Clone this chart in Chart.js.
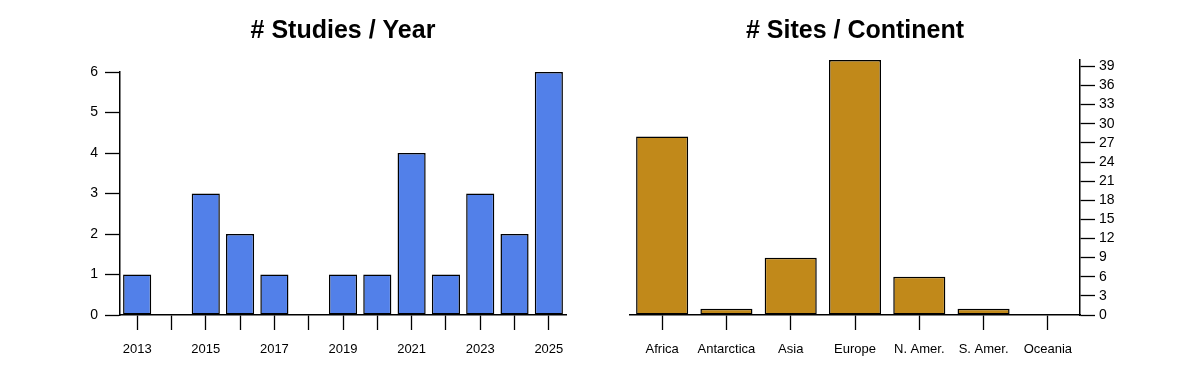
<!DOCTYPE html>
<html>
<head>
<meta charset="utf-8">
<script src="https://cdn.jsdelivr.net/npm/chart.js@4"></script>
<style>
  html, body { margin: 0; padding: 0; background: #fff; }
  #wrap { position: relative; width: 1200px; height: 375px; }
  canvas { position: absolute; top: 0; }
</style>
</head>
<body>
<div id="wrap">
  <canvas id="studies" width="600" height="375" style="left:0"></canvas>
  <canvas id="sites" width="600" height="375" style="left:600px"></canvas>
</div>
<script>
const years = ["2013", "2014", "2015", "2016", "2017", "2018", "2019", "2020", "2021", "2022", "2023", "2024", "2025"]
const studiesPerYear = [1, 0, 3, 2, 1, 0, 1, 1, 4, 1, 3, 2, 6]
const studiesTicks = [0, 1, 2, 3, 4, 5, 6]

const continents = ["Africa", "Antarctica", "Asia", "Europe", "N. Amer.", "S. Amer.", "Oceania"]
const sitesPerContinent = [28, 1, 9, 40, 6, 1, 0]
const sitesTicks = [0, 3, 6, 9, 12, 15, 18, 21, 24, 27, 30, 33, 36, 39]

const fontFamily = "'Liberation Sans', Arial, Helvetica, sans-serif"
Chart.defaults.font.family = fontFamily
Chart.defaults.color = "#000"

function axisGrid() {
  return {
    drawOnChartArea: false,
    drawTicks: true,
    tickLength: 15,
    tickColor: "#000",
    tickWidth: 1.3,
    offset: false
  }
}

// title sits centred over the plot area, like the original
function makeTitle(text, gapBelow) {
  return {
    display: true,
    text,
    fullSize: false,
    color: "#000",
    font: { size: 25, weight: "bold", family: fontFamily },
    padding: { top: 16, bottom: gapBelow }
  }
}

function fixedTicks(values) {
  return (scale) => {
    scale.ticks = values.map((v) => ({ value: v }))
  }
}

new Chart(document.getElementById("studies"), {
  type: "bar",
  data: {
    labels: years,
    datasets: [{
      data: studiesPerYear,
      backgroundColor: "#5280E9",
      borderColor: "#000",
      borderWidth: 1.5,
      borderSkipped: false,
      barPercentage: 0.82,
      categoryPercentage: 1
    }]
  },
  options: {
    responsive: false,
    animation: false,
    layout: { padding: { left: 0, right: 34, top: 0, bottom: 0 } },
    plugins: {
      legend: { display: false },
      tooltip: { enabled: false },
      title: makeTitle("# Studies / Year", 26)
    },
    scales: {
      x: {
        offset: true,
        grid: axisGrid(),
        border: { color: "#000", width: 1.5 },
        ticks: {
          autoSkip: false,
          maxRotation: 0,
          padding: 12,
          font: { size: 13 },
          callback: (value, index) => (index % 2 === 0 ? years[index] : "")
        },
        afterFit: (scale) => { scale.height = 60 }
      },
      y: {
        min: 0,
        max: 6,
        grid: axisGrid(),
        border: { color: "#000", width: 1.5 },
        ticks: { autoSkip: false, padding: 7, font: { size: 14 } },
        afterBuildTicks: fixedTicks(studiesTicks),
        afterFit: (scale) => { scale.width = 120 }
      }
    }
  }
})

new Chart(document.getElementById("sites"), {
  type: "bar",
  data: {
    labels: continents,
    datasets: [{
      data: sitesPerContinent,
      backgroundColor: "#C1891A",
      borderColor: "#000",
      borderWidth: 1.5,
      borderSkipped: false,
      barPercentage: 0.81,
      categoryPercentage: 1
    }]
  },
  options: {
    responsive: false,
    animation: false,
    layout: { padding: { left: 30, right: 0, top: 0, bottom: 0 } },
    plugins: {
      legend: { display: false },
      tooltip: { enabled: false },
      title: makeTitle("# Sites / Continent", 14)
    },
    scales: {
      x: {
        offset: true,
        grid: axisGrid(),
        border: { color: "#000", width: 1.5 },
        ticks: { autoSkip: false, maxRotation: 0, padding: 12, font: { size: 13 } },
        afterFit: (scale) => { scale.height = 60 }
      },
      y: {
        position: "right",
        min: 0,
        max: 40,
        grid: axisGrid(),
        border: { color: "#000", width: 1.5 },
        ticks: { autoSkip: false, padding: 4, font: { size: 14 } },
        afterBuildTicks: fixedTicks(sitesTicks),
        afterFit: (scale) => { scale.width = 120 }
      }
    }
  }
})
</script>
</body>
</html>
